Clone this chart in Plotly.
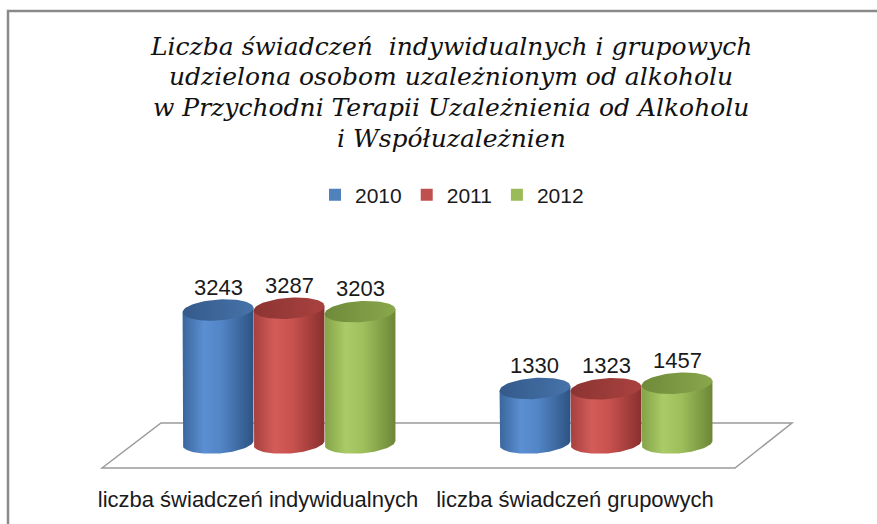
import numpy as np
import plotly.graph_objects as go

# ---------------- data ----------------
categories = ["liczba świadczeń indywidualnych", "liczba świadczeń grupowych"]
years = ["2010", "2011", "2012"]
values_2010 = [3243, 1330]
values_2011 = [3287, 1323]
values_2012 = [3203, 1457]
series_values = [values_2010, values_2011, values_2012]

title_lines = [
    "Liczba świadczeń  indywidualnych i grupowych",
    "udzielona osobom uzależnionym od alkoholu",
    "w Przychodni Terapii Uzależnienia od Alkoholu",
    "i Współuzależnien",
]

# ---------------- geometry / style ----------------
W, H = 877, 524
MB = 40
PH = H - MB
X_RANGE = [-0.9117, 1.8549]
Y_RANGE = [-1000, 10805]
ux = (X_RANGE[1] - X_RANGE[0]) / W      # data units per px (x)
uy = (Y_RANGE[1] - Y_RANGE[0]) / PH     # data units per px (y)

bargap = 0.328
bw = (1 - bargap) / len(years)
a_px = bw / ux / 2
b_px = 10.5
tilt = np.deg2rad(4)

base_colors = ["#4F81BD", "#C0504D", "#9BBB59"]
body_scales = [
    [[0, "#3A669C"], [0.3, "#5B8FD2"], [0.55, "#5285C5"], [1, "#2D5383"]],
    [[0, "#A5403E"], [0.3, "#D35C59"], [0.55, "#C8514E"], [1, "#88302E"]],
    [[0, "#84A248"], [0.3, "#AACB67"], [0.55, "#9FBF5C"], [1, "#6C8737"]],
]
cap_scales = [
    [[0, "#345A8A"], [1, "#4673AA"]],
    [[0, "#8C3432"], [1, "#A9423F"]],
    [[0, "#6F8A3A"], [1, "#89A74C"]],
]


def ellipse(cx, cy, t):
    dxp = a_px * np.cos(t) * np.cos(tilt) - b_px * np.sin(t) * np.sin(tilt)
    dyp = a_px * np.cos(t) * np.sin(tilt) + b_px * np.sin(t) * np.cos(tilt)
    return cx + dxp * ux, cy + dyp * uy


fig = go.Figure()

# plain bars (legend + base), hidden under the cylinders
for s, (yr, vals) in enumerate(zip(years, series_values)):
    fig.add_trace(go.Bar(
        x=[g + (s - 1) * bw for g in range(len(categories))],
        y=vals, width=0.8 * bw, name=yr,
        marker=dict(color=base_colors[s], line=dict(width=0)),
        hoverinfo="skip",
    ))

annotations = []
for g in range(len(categories)):
    for s, vals in enumerate(series_values):
        v = vals[g]
        cx = g + (s - 1) * bw
        # body
        tl = ellipse(cx, v, np.pi)
        tr = ellipse(cx, v, 0.0)
        bx, by = ellipse(cx, 0, np.linspace(np.pi, 2 * np.pi, 60))
        xs = [tl[0]] + list(bx) + [tr[0], tl[0]]
        ys = [tl[1]] + list(by) + [tr[1], tl[1]]
        fig.add_trace(go.Scatter(
            x=xs, y=ys, mode="lines", fill="toself",
            line=dict(width=0, color="rgba(0,0,0,0)"),
            fillgradient=dict(type="horizontal", colorscale=body_scales[s]),
            showlegend=False, hoverinfo="skip",
        ))
        # top cap
        cxs, cys = ellipse(cx, v, np.linspace(0, 2 * np.pi, 80))
        fig.add_trace(go.Scatter(
            x=cxs, y=cys, mode="lines", fill="toself",
            line=dict(width=0, color="rgba(0,0,0,0)"),
            fillgradient=dict(type="horizontal", colorscale=cap_scales[s]),
            showlegend=False, hoverinfo="skip",
        ))
        annotations.append(dict(
            x=cx, y=v, xref="x", yref="y", text=str(v), showarrow=False,
            yshift=23, font=dict(family="Liberation Sans", size=22, color="#1a1a1a"),
        ))


def px(xp):
    return xp / W


def py(yp):
    return 1 - yp / PH


# title, one annotation per line
title_y = [47, 77, 107, 138]
for line, ty in zip(title_lines, title_y):
    annotations.append(dict(
        x=px(451), y=py(ty), xref="paper", yref="paper", xanchor="center", yanchor="middle",
        text="<i>%s</i>" % line, showarrow=False,
        font=dict(family="DejaVu Serif", size=25, color="#111111"),
    ))

shapes = [
    # outer frame (left + top visible)
    dict(type="rect", xref="paper", yref="paper", x0=px(8), y0=py(560), x1=px(900), y1=py(11),
         line=dict(color="#8a8a8a", width=2.5), layer="below"),
    # floor
    dict(type="path", xref="paper", yref="paper",
         path="M %f,%f L %f,%f L %f,%f L %f,%f Z" % (px(102), py(468), px(161), py(423),
                                                      px(792), py(423), px(735), py(468)),
         line=dict(color="#9a9a9a", width=1.5), layer="below"),
]

fig.update_layout(
    width=W, height=H, autosize=False,
    margin=dict(l=0, r=0, t=0, b=MB),
    paper_bgcolor="white", plot_bgcolor="white",
    barmode="overlay",
    showlegend=True,
    legend=dict(orientation="h", x=px(452), xanchor="center", y=py(195), yanchor="middle",
                font=dict(family="Liberation Sans", size=21, color="#1a1a1a"),
                itemwidth=30, bgcolor="rgba(0,0,0,0)"),
    xaxis=dict(range=X_RANGE, tickvals=[g - 0.098 for g in range(len(categories))],
               ticktext=categories, showgrid=False, zeroline=False, showline=False,
               ticks="", tickfont=dict(family="Liberation Sans", size=22, color="#1a1a1a"),
               fixedrange=True),
    yaxis=dict(range=Y_RANGE, visible=False, fixedrange=True),
    annotations=annotations,
    shapes=shapes,
)

fig.write_html("out.html", config={"displayModeBar": False},
               post_script="document.body.style.margin='0';document.body.style.overflow='hidden';")
